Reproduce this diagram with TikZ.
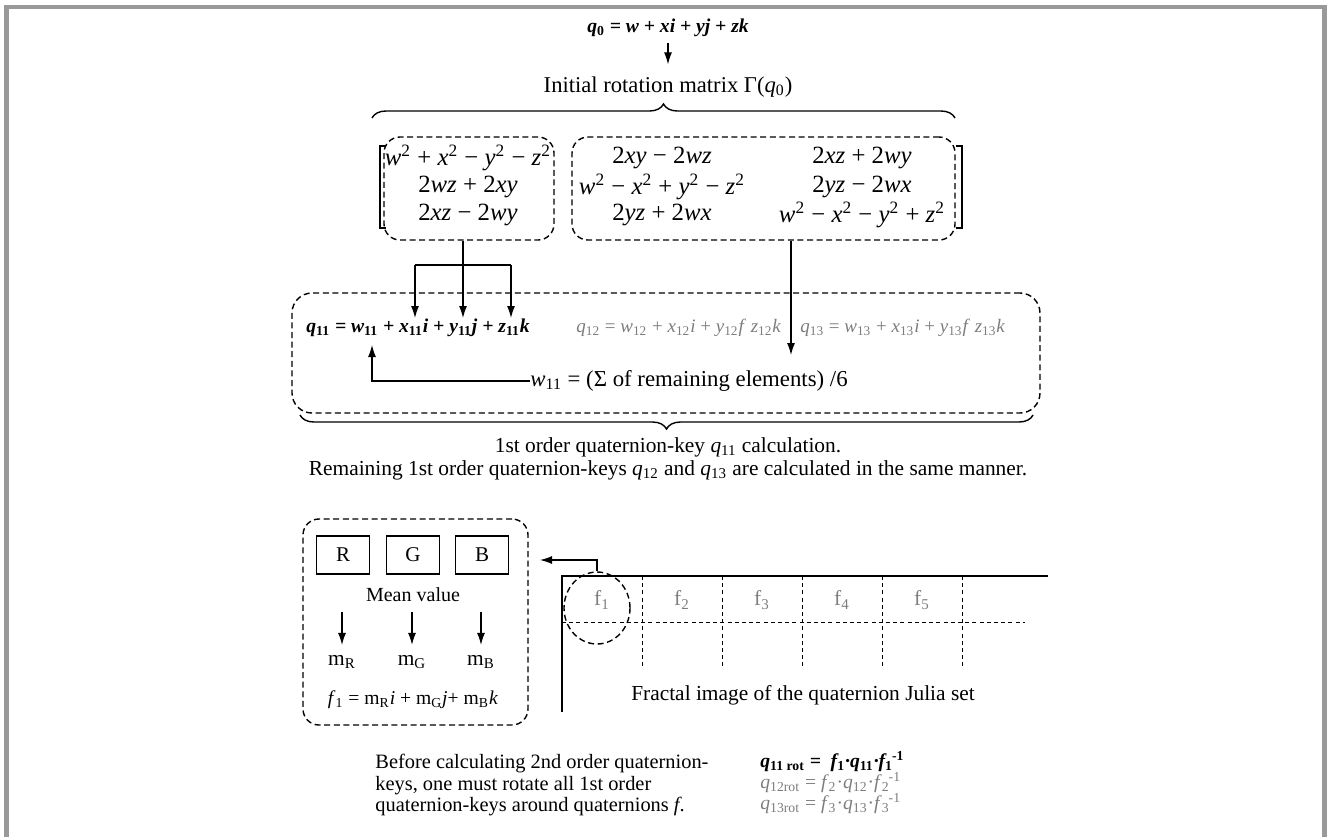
\documentclass[tikz,border=0pt]{standalone}
\usepackage{fontspec}
\setmainfont{Liberation Serif}
\usetikzlibrary{arrows, arrows.meta}
\usetikzlibrary{calc}
\usetikzlibrary{fit}
\usetikzlibrary{shapes.geometric}
\usetikzlibrary{decorations.pathreplacing}

\definecolor{framegray}{RGB}{153,153,153}
\definecolor{keygray}{RGB}{125,125,125}

\newcommand{\lo}[1]{\textsubscript{#1}}
\newcommand{\up}[1]{\textsuperscript{#1}}
\newcommand{\loup}[2]{\textsubscript{#1}\kern-0.05em\textsuperscript{#2}}

\tikzset{
  txt/.style={inner sep=0pt, font=\fontsize{10.7}{12}\selectfont},
  eqn/.style={inner sep=0pt, font=\fontsize{9.8}{11}\selectfont},
  mtx/.style={inner sep=0pt, font=\fontsize{12.4}{14}\selectfont},
  dbox/.style={draw, dash pattern=on 3pt off 1.8pt, line width=0.7pt, rounded corners=8pt, inner sep=0pt},
  arr/.style={-{Latex[length=6pt,width=4pt]}, line width=0.6pt},
  brc/.style={decorate, decoration={brace, amplitude=7pt}, line width=0.7pt},
  chan/.style={draw, line width=0.6pt, minimum width=26.5pt, minimum height=19pt, inner sep=0pt, font=\fontsize{10.5}{12}\selectfont},
  grid/.style={dash pattern=on 2pt off 1.6pt, line width=0.5pt}
}

\begin{document}
\begin{tikzpicture}[x=0.5pt, y=-0.5pt]
  \useasboundingbox (0,0) rectangle (1327,837);
  \draw[framegray, line width=2.4pt] (6.5,837) -- (6.5,7) -- (1324.5,7) -- (1324.5,837);

  \node[eqn] (q0) at (668,28) {\bfseries\itshape q\lo{\upshape 0} = w + xi + yj + zk};
  \node[txt, font=\fontsize{11.3}{13}\selectfont] (init) at (668,87) {Initial rotation matrix Γ(\textit{q}\lo{0})};
  \draw[arr, shorten <=3pt, shorten >=6pt] (q0) -- (init);

  \draw[brc] (372,118) -- (955,118);

  \node[dbox, fit={(384,137) (554,240)}] (col1) {};
  \node[dbox, fit={(572,137) (955,240)}] (col23) {};
  \draw[line width=0.6pt] (386,146) -- (380,146) -- (380,228) -- (386,228);
  \draw[line width=0.6pt] (956,146) -- (962,146) -- (962,228) -- (956,228);

  \node[mtx] (m11) at (468,158) {\textit{w}\up{2} + \textit{x}\up{2} − \textit{y}\up{2} − \textit{z}\up{2}};
  \node[mtx] (m21) at (468,187) {2\textit{wz} + 2\textit{xy}};
  \node[mtx] (m31) at (468,215) {2\textit{xz} − 2\textit{wy}};
  \node[mtx] (m12) at (662,158) {2\textit{xy} − 2\textit{wz}};
  \node[mtx] (m22) at (662,187) {\textit{w}\up{2} − \textit{x}\up{2} + \textit{y}\up{2} − \textit{z}\up{2}};
  \node[mtx] (m32) at (662,215) {2\textit{yz} + 2\textit{wx}};
  \node[mtx] (m13) at (862,158) {2\textit{xz} + 2\textit{wy}};
  \node[mtx] (m23) at (862,187) {2\textit{yz} − 2\textit{wx}};
  \node[mtx] (m33) at (862,215) {\textit{w}\up{2} − \textit{x}\up{2} − \textit{y}\up{2} + \textit{z}\up{2}};

  \node[dbox, rounded corners=10pt, fit={(292,293) (1040,413)}] (calc) {};
  \node[eqn, anchor=west] (q11) at (306,328) {\bfseries\itshape q\lo{\upshape 11} = w\lo{\upshape 11} + x\lo{\upshape 11}i + y\lo{\upshape 11}j + z\lo{\upshape 11}k};
  \node[eqn, anchor=west, keygray, font=\fontsize{9.5}{11}\selectfont] (q12) at (576,328) {\textit{q}\lo{12} = \textit{w}\lo{12} + \textit{x}\lo{12}\textit{i} + \textit{y}\lo{12}\textit{f} \textit{z}\lo{12}\textit{k}};
  \node[eqn, anchor=west, keygray, font=\fontsize{9.5}{11}\selectfont] (q13) at (800,328) {\textit{q}\lo{13} = \textit{w}\lo{13} + \textit{x}\lo{13}\textit{i} + \textit{y}\lo{13}\textit{f} \textit{z}\lo{13}\textit{k}};
  \node[txt, anchor=west, font=\fontsize{11.4}{13}\selectfont] (wsum) at (530,381) {\textit{w}\lo{11} = (Σ of remaining elements) /6};

  \coordinate (tx) at (415,318);
  \coordinate (ty) at (463,318);
  \coordinate (tz) at (511,318);
  \coordinate (br) at (463,265);
  \coordinate (tw) at (372,345);
  \coordinate (tdown) at (791,355);
  \draw[line width=0.6pt] (tx |- br) -- (tz |- br);
  \draw[arr] (col1.south -| ty) -- (ty);
  \draw[arr] (tx |- br) -- (tx);
  \draw[arr] (tz |- br) -- (tz);
  \draw[arr] (col23.south -| tdown) -- (tdown);
  \draw[arr] (wsum.west) -| (tw);

  \draw[brc] (1033,415) -- (300,415);
  \node[txt] (cap1) at (668,447) {1st order quaternion-key \textit{q}\lo{11} calculation.};
  \node[txt] (cap2) at (668,470) {Remaining 1st order quaternion-keys \textit{q}\lo{12} and \textit{q}\lo{13} are calculated in the same manner.};

  \node[dbox, fit={(303,519) (528,725)}] (rgb) {};
  \node[chan] (R) at (343,555) {R};
  \node[chan] (G) at (413,555) {G};
  \node[chan] (B) at (482,555) {B};
  \node[txt, font=\fontsize{10}{12}\selectfont] (mean) at (413,595) {Mean value};
  \node[txt] (mR) at (342,662) {m\lo{R}};
  \node[txt] (mG) at (412,662) {m\lo{G}};
  \node[txt] (mB) at (481,662) {m\lo{B}};
  \foreach \c in {mR, mG, mB}
    \draw[arr, shorten <=5pt, shorten >=5pt] (mean.south -| \c) -- (\c.north);
  \node[eqn] (f1eq) at (413,700) {\textit{f}\lo{1} = m\lo{R}\textit{i} + m\lo{G}\textit{j}+ m\lo{B}\textit{k}};

  \draw[line width=1.2pt] (1048,576) -- (562,576) -- (562,712);
  \draw[grid] (562,622) -- (1025,622);
  \foreach \i in {1,...,5}
    \draw[grid] (562+80*\i,576) -- (562+80*\i,668);
  \foreach \i in {1,...,5}
    \node[txt, keygray] (f\i) at (522+80*\i,600) {f\lo{\i}};
  \node[draw, ellipse, dash pattern=on 3pt off 1.8pt, line width=0.7pt, minimum width=33pt, minimum height=36pt, inner sep=0pt] (ring) at (597,608) {};
  \coordinate (rgbin) at (540,560);
  \draw[arr] (ring.north) |- (rgbin);
  \node[txt] (fractal) at (803,695) {Fractal image of the quaternion Julia set};

  \node[txt, anchor=north west, align=left, font=\fontsize{10.2}{10.8}\selectfont] (note) at (375,754) {Before calculating 2nd order quaternion-\\keys, one must rotate all 1st order\\quaternion-keys around quaternions \textit{f}.};
  \node[eqn, anchor=north west, align=left, font=\fontsize{9.8}{10.5}\selectfont] (rot) at (760,751) {\lineskiplimit=-8pt\relax
    {\bfseries\itshape q\lo{\upshape 11 rot} = \ f\lo{\upshape 1}·q\lo{\upshape 11}·f\loup{\upshape 1}{\upshape -1}}\\
    \textcolor{keygray}{\textit{q}\lo{12rot} = \textit{f}\lo{2}·\textit{q}\lo{12}·\textit{f}\loup{2}{-1}}\\
    \textcolor{keygray}{\textit{q}\lo{13rot} = \textit{f}\lo{3}·\textit{q}\lo{13}·\textit{f}\loup{3}{-1}}};
\end{tikzpicture}
\end{document}
